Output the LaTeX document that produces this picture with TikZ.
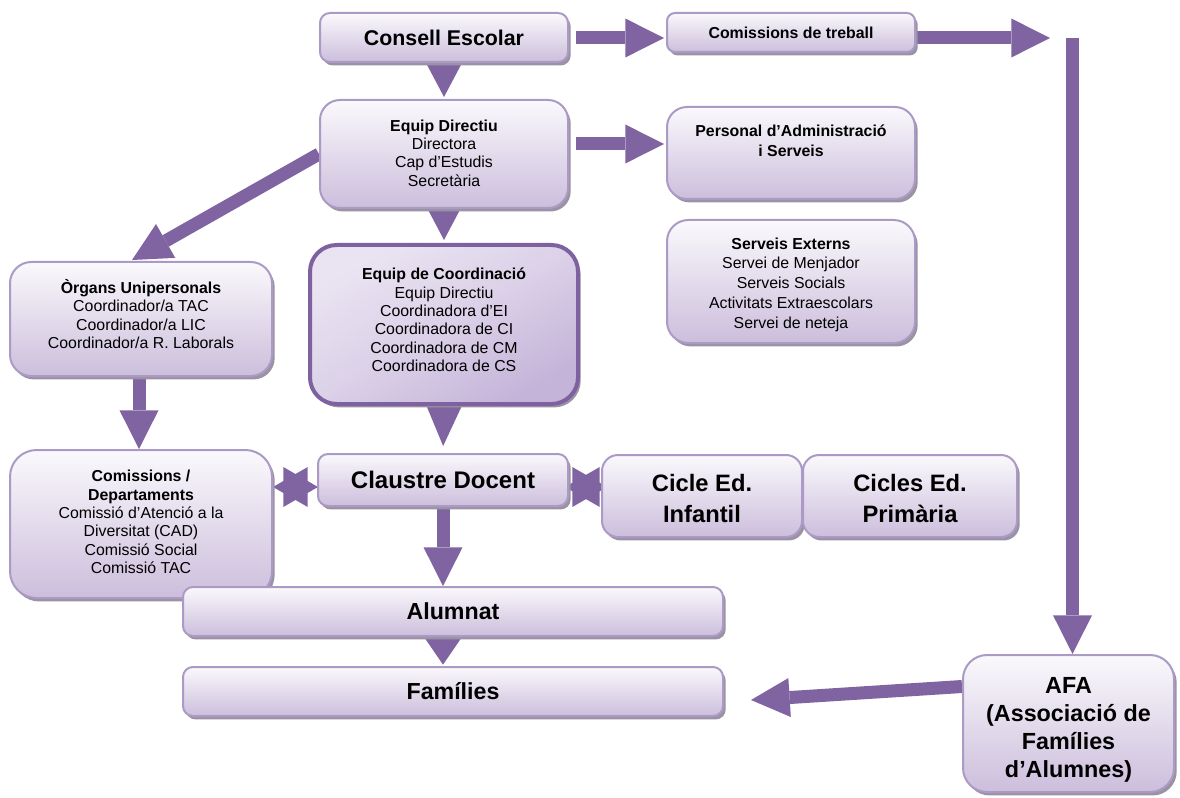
\documentclass[tikz,border=0pt]{standalone}
\usepackage{fontspec}
\setmainfont{Liberation Sans}
\usetikzlibrary{arrows.meta,calc,shadows}
\definecolor{arrc}{HTML}{8064A2}
\definecolor{bord}{HTML}{AB9AC6}
\definecolor{btop}{HTML}{FAF9FC}
\definecolor{bbot}{HTML}{CCBEDC}
\definecolor{shad}{HTML}{9A93A3}
\definecolor{ectop}{HTML}{EAE4F2}
\definecolor{ecbot}{HTML}{C5B4D9}
\definecolor{ecbord}{HTML}{7E62A0}
\pgfdeclarelayer{background}
\pgfsetlayers{background,main}
\tikzset{
  box/.style={draw=bord, line width=1.5pt, top color=btop, bottom color=bbot,
    rounded corners=#1, inner sep=0pt,
    drop shadow={shadow xshift=2pt, shadow yshift=-2.6pt, fill=shad, opacity=1}},
  box/.default=7.5pt,
  ecbox/.style={draw=ecbord, line width=3pt, top color=ectop, bottom color=ecbot,
    middle color=ectop!60!ecbot, shading angle=30,
    rounded corners=20pt, inner sep=0pt,
    drop shadow={shadow xshift=2pt, shadow yshift=-2.6pt, fill=shad, opacity=1}},
  txt/.style={align=center, inner sep=0pt, font=\fontsize{11.9}{13.8}\selectfont},
  blk/.style={draw=arrc, line width=9.75pt,
    -{Triangle[width=29.25pt,length=29pt,line width=0pt]}},
  tri/.style={draw=arrc, line width=0.2pt,
    -{Triangle[width=27.75pt,length=#1,line width=0pt]}},
  tri/.default=26.25pt,
  hexa/.style={draw=arrc, line width=0.2pt,
    -{Triangle[width=30pt,length=26pt,line width=0pt]}},
}
\begin{document}
\begin{tikzpicture}[x=0.75pt,y=-0.75pt]
\useasboundingbox (0,0) rectangle (1180,798);

% boxes
\node[box, minimum width=186pt, minimum height=36.75pt] (cs) at (444,37.5)
  {\bfseries\fontsize{16}{19}\selectfont Consell Escolar};
\node[box=6pt, minimum width=186pt, minimum height=29.25pt] (ct) at (791,32.5)
  {\bfseries\fontsize{11.9}{14}\selectfont Comissions de treball};
\node[box=15pt, minimum width=186pt, minimum height=81pt] (ed) at (444,154) {};
\node[txt] (edt) at (444,153) {\textbf{Equip Directiu}\\Directora\\Cap d’Estudis\\Secretària};
\node[box=15pt, minimum width=186pt, minimum height=69pt] (pa) at (791,153) {};
\node[txt, font=\bfseries\fontsize{11.9}{15}\selectfont] (pat) at (791,141) {Personal d’Administració\\i Serveis};
\node[box=16pt, minimum width=186pt, minimum height=92.25pt] (se) at (791,281.5) {};
\node[txt, font=\fontsize{11.9}{14.8}\selectfont] (set) at (791,284.5) {\textbf{Serveis Externs}\\Servei de Menjador\\Serveis Socials\\Activitats Extraescolars\\Servei de neteja};
\node[box=16pt, minimum width=196.5pt, minimum height=85.5pt] (ou) at (141,319) {};
\node[txt] (out) at (141,314) {\textbf{Òrgans Unipersonals}\\Coordinador/a TAC\\Coordinador/a LIC\\Coordinador/a R. Laborals};
\node[ecbox, minimum width=201pt, minimum height=119.25pt] (ec) at (444,324.5) {};
\node[txt] (ect) at (444,320) {\textbf{Equip de Coordinació}\\Equip Directiu\\Coordinadora d’EI\\Coordinadora de CI\\Coordinadora de CM\\Coordinadora de CS};
\node[box=20pt, minimum width=196.5pt, minimum height=111pt] (cm) at (141,524) {};
\node[txt] (cmt) at (141,522) {\textbf{Comissions /}\\\textbf{Departaments}\\Comissió d’Atenció a la\\Diversitat (CAD)\\Comissió Social\\Comissió TAC};
\node[box, minimum width=187.5pt, minimum height=39pt] (cd) at (443,480)
  {\bfseries\fontsize{18}{21}\selectfont Claustre Docent};
\node[box=12pt, minimum width=150pt, minimum height=61.5pt] (ci) at (702,496) {};
\node[txt, font=\bfseries\fontsize{17.8}{23.25}\selectfont] (cit) at (702,498.5) {Cicle Ed.\\Infantil};
\node[box=12pt, minimum width=160.5pt, minimum height=61.5pt] (cp) at (910,496) {};
\node[txt, font=\bfseries\fontsize{17.8}{23.25}\selectfont] (cpt) at (910,498.5) {Cicles Ed.\\Primària};
\node[box, minimum width=405pt, minimum height=36.75pt] (al) at (453,611.5)
  {\bfseries\fontsize{17.4}{20}\selectfont Alumnat};
\node[box, minimum width=405pt, minimum height=36.75pt] (fa) at (453,691.5)
  {\bfseries\fontsize{17.4}{20}\selectfont Famílies};
\node[box=18pt, minimum width=158.25pt, minimum height=102.75pt] (afa) at (1068.5,723.5) {};
\node[txt, font=\bfseries\fontsize{17.5}{21}\selectfont] (afat) at (1068.5,730) {AFA\\(Associació de\\Famílies\\d’Alumnes)};

\coordinate (c1) at (1050,38);
\coordinate (c2) at (1072.5,38);

\begin{pgfonlayer}{background}
% block arrows
\draw[blk] ($(cs.east)+(7,0.5)$) -- ($(cs.east -| ct.west)+(-2,0.5)$);
\draw[blk] ($(ct.east)+(0,5.5)$) -- (c1);
\draw[blk] (c2) -- (c2 |- afa.north);
\draw[blk] ($(ed.east)+(7,-10)$) -- ($(ed.east -| pa.west)+(-2,-10)$);
\draw[blk] (ed.west) -- ($(ou.north)+(-9,-1)$);
\draw[blk] ($(ou.south)+(-2,0)$) -- ($(cm.north)+(-2,0)$);
\draw[blk] (cd.south) -- (cd.south |- al.north);
\draw[blk] ($(afa.west)+(0,-37)$) -- ($(fa.east)+(27,8.5)$);
% triangle arrows
\draw[tri, shorten >=1.5pt] (cs.south) -- (ed.north);
\draw[tri, shorten >=2.25pt] (ed.south) -- (ec.north);
\draw[tri=31.5pt, shorten >=5.25pt] (ec.south) -- (cd.north);
\draw[tri=20.25pt, shorten >=1pt] (al.south -| cd.south) -- (fa.north -| cd.south);
% double arrows (stars)
\coordinate (s1a) at ($(cm.east |- cd.west)+(0,7)$);
\coordinate (s1b) at ($(cd.west)+(1,7)$);
\draw[hexa] (s1a) -- (s1b);
\draw[hexa] (s1b) -- (s1a);
\coordinate (s2a) at ($(cd.east)+(-4,7)$);
\coordinate (s2b) at ($(ci.west)+(6,-9)$);
\draw[hexa] (s2a) -- (s2b);
\draw[hexa] (s2b) -- (s2a);
\end{pgfonlayer}
\end{tikzpicture}
\end{document}
